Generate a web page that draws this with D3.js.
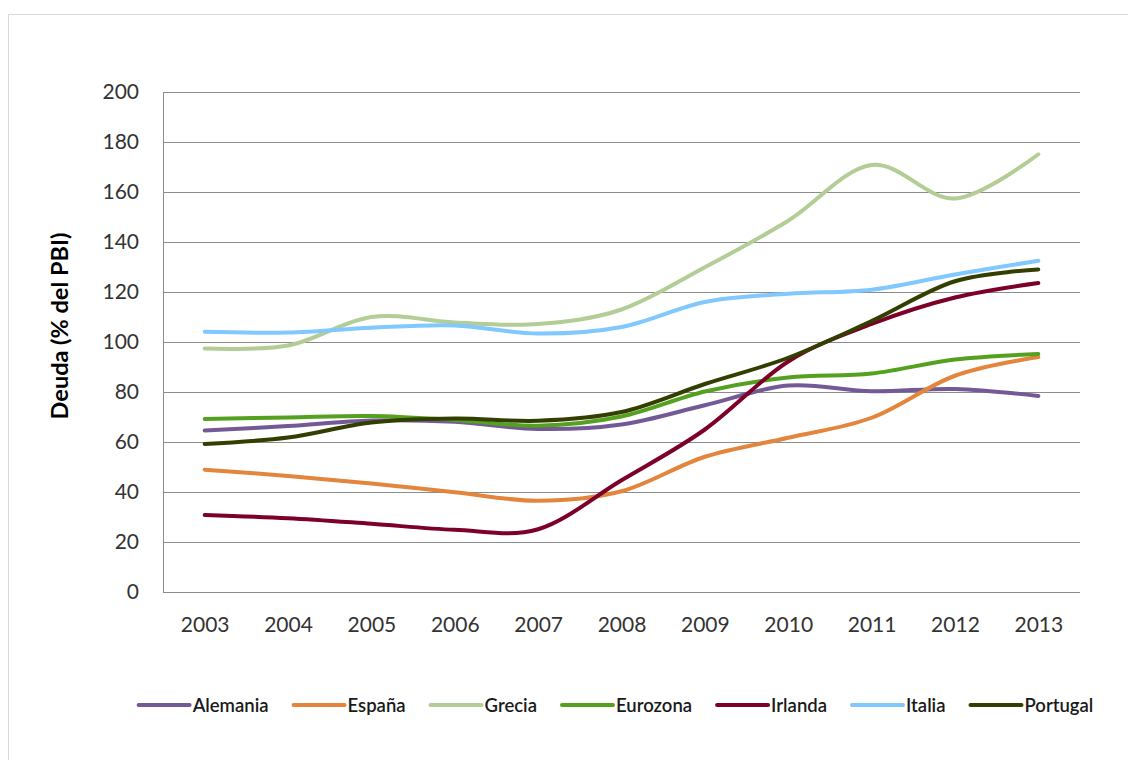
<!DOCTYPE html>
<html>
<head>
<meta charset="utf-8">
<script src="https://cdn.jsdelivr.net/npm/d3@7"></script>
<style>
  html, body { margin: 0; padding: 0; background: #fff; }
  svg { display: block; }
</style>
</head>
<body>
<svg id="chart" width="1128" height="760"></svg>
<script>
const years = ["2003","2004","2005","2006","2007","2008","2009","2010","2011","2012","2013"];
const yTicks = [0, 20, 40, 60, 80, 100, 120, 140, 160, 180, 200];
const seriesNames = ["Alemania", "España", "Grecia", "Eurozona", "Irlanda", "Italia", "Portugal"];
const alemania = [64.4, 66.2, 68.4, 67.9, 65.0, 66.8, 74.5, 82.4, 80.1, 81.0, 78.2];
const espana   = [48.7, 46.2, 43.2, 39.7, 36.3, 40.1, 53.9, 61.5, 69.5, 86.3, 93.8];
const grecia   = [97.2, 98.4, 109.8, 107.6, 107.0, 112.8, 129.7, 148.3, 170.6, 157.2, 174.9];
const eurozona = [69.0, 69.6, 70.2, 68.6, 66.3, 70.0, 80.0, 85.6, 87.2, 92.8, 95.0];
const irlanda  = [30.6, 29.3, 27.1, 24.7, 24.9, 44.5, 64.8, 92.0, 107.0, 117.6, 123.4];
const italia   = [103.9, 103.6, 105.5, 106.4, 103.2, 105.8, 115.8, 119.1, 120.7, 126.8, 132.3];
const portugal = [59.0, 61.6, 67.6, 69.2, 68.3, 71.8, 83.0, 93.5, 108.2, 124.1, 128.8];
const seriesValues = [alemania, espana, grecia, eurozona, irlanda, italia, portugal];
const colors = ["#735a96", "#e3853c", "#b3cd96", "#54a01f", "#7c0027", "#80c8fe", "#323f00"];
const yTitle = "Deuda (% del PBI)";

const svg = d3.select("#chart");
const font = "Lato, 'Open Sans', sans-serif";
const plot = { left: 163, right: 1080, top: 91.5, bottom: 591.5 };

// outer frame
svg.append("rect")
  .attr("x", 8.5).attr("y", 14.5).attr("width", 1140).attr("height", 770)
  .attr("fill", "#fff").attr("stroke", "#d9d9d9").attr("stroke-width", 1);

const x = d3.scalePoint().domain(years)
  .range([plot.left, plot.right]).padding(0.5);
const y = d3.scaleLinear().domain([0, 200]).range([plot.bottom, plot.top]);

// gridlines
const yAxis = d3.axisLeft(y).tickValues(yTicks).tickSize(-(plot.right - plot.left)).tickPadding(24);
const gy = svg.append("g").attr("transform", `translate(${plot.left},0)`).call(yAxis);
gy.select(".domain").remove();
gy.selectAll(".tick line").attr("stroke", "#8c8c8c").attr("stroke-width", 1).attr("shape-rendering", "crispEdges");
gy.selectAll(".tick text").attr("font-family", font).attr("font-size", 21).attr("fill", "#333");

// left axis line
svg.append("line")
  .attr("x1", plot.left).attr("x2", plot.left)
  .attr("y1", plot.top).attr("y2", plot.bottom)
  .attr("stroke", "#8c8c8c").attr("shape-rendering", "crispEdges");

// x axis
const xAxis = d3.axisBottom(x).tickSize(0).tickPadding(26);
const gx = svg.append("g").attr("transform", `translate(0,${plot.bottom})`).call(xAxis);
gx.select(".domain").remove();
gx.selectAll(".tick text").attr("font-family", font).attr("font-size", 21).attr("fill", "#333");

// y title
svg.append("text")
  .attr("transform", `translate(68,326) rotate(-90)`)
  .attr("text-anchor", "middle")
  .attr("font-family", font).attr("font-weight", "bold").attr("font-size", 23.5)
  .attr("fill", "#000")
  .text(yTitle);

// lines
const line = d3.line()
  .x((d, i) => x(years[i]))
  .y(d => y(d))
  .curve(d3.curveCatmullRom.alpha(0));

const order = [0, 1, 2, 3, 4, 5, 6];
svg.append("g").selectAll("path")
  .data(order)
  .join("path")
  .attr("d", i => line(seriesValues[i]))
  .attr("fill", "none")
  .attr("stroke", i => colors[i])
  .attr("stroke-width", 4)
  .attr("stroke-linecap", "round")
  .attr("stroke-linejoin", "round");

// legend
const legendY = 705;
const swatch = 51, gapText = 3, gapItem = 25;
const lg = svg.append("g");
const items = seriesNames.map((name, i) => {
  const g = lg.append("g");
  g.append("line").attr("x1", 0).attr("x2", swatch).attr("y1", 0).attr("y2", 0)
    .attr("stroke", colors[i]).attr("stroke-width", 4).attr("stroke-linecap", "round");
  const t = g.append("text").attr("x", swatch + gapText).attr("y", 0)
    .attr("dominant-baseline", "central")
    .attr("font-family", font).attr("font-size", 18.5).attr("font-weight", 600)
    .attr("fill", "#1a1a1a").text(name);
  return { g, w: swatch + gapText + t.node().getComputedTextLength() };
});
const total = d3.sum(items, d => d.w) + gapItem * (items.length - 1);
let cx = 616 - total / 2;
items.forEach(it => {
  it.g.attr("transform", `translate(${cx},${legendY})`);
  cx += it.w + gapItem;
});
</script>
</body>
</html>
